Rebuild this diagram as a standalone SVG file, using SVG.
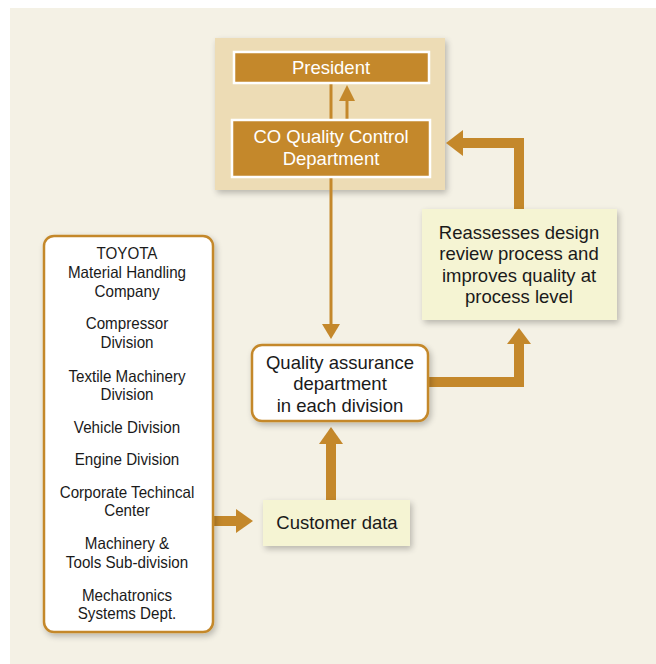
<svg xmlns="http://www.w3.org/2000/svg" width="656" height="664" viewBox="0 0 656 664">
<defs>
<filter id="sh" x="-20%" y="-20%" width="150%" height="150%">
<feGaussianBlur in="SourceAlpha" stdDeviation="3"/>
<feOffset dx="2" dy="3"/>
<feComponentTransfer><feFuncA type="linear" slope="0.25"/></feComponentTransfer>
<feMerge><feMergeNode/><feMergeNode in="SourceGraphic"/></feMerge>
</filter>
</defs>
<style>
.t{font-family:"Liberation Sans",Arial,sans-serif;font-size:18.5px;fill:#1a1a1a;text-anchor:middle}
.w{fill:#ffffff}
.n{font-family:"Liberation Sans",Arial,sans-serif;font-size:16.5px;fill:#1a1a1a;text-anchor:middle}
.dark{fill:#c4882b;stroke:#ffffff;stroke-width:2.5}
.note{fill:#f5f4d3}
.rnd{fill:#ffffff;stroke:#c4882b;stroke-width:2.5}
.ar{fill:#c4882b}
.ln{stroke:#c4882b;fill:none}
</style>
<rect x="10" y="8" width="646" height="656" fill="#f4f1e5"/>
<g id="hq">
<rect x="215" y="38" width="230" height="152" fill="#eddcb5" filter="url(#sh)"/>
</g>
<g id="connectors">
<line class="ln" x1="331" y1="84" x2="331" y2="326" stroke-width="3"/>
<polygon class="ar" points="322,324 340,324 331,339"/>
<line class="ln" x1="347" y1="119" x2="347" y2="98" stroke-width="3"/>
<polygon class="ar" points="339,101 355,101 347,85"/>
<polyline class="ln" points="519,209 519,143 462,143" stroke-width="10"/>
<polygon class="ar" points="463,130 463,156 446,143"/>
<polyline class="ln" points="428,382 519,382 519,342" stroke-width="10"/>
<polygon class="ar" points="507,344 531,344 519,328"/>
<line class="ln" x1="331" y1="500" x2="331" y2="442" stroke-width="10"/>
<polygon class="ar" points="319,444 343,444 331,427"/>
<line class="ln" x1="213" y1="521" x2="238" y2="521" stroke-width="10"/>
<polygon class="ar" points="236,509 236,533 253,521"/>
</g>
<g id="president">
<rect class="dark" x="234" y="52" width="195" height="31"/>
<text class="t w" x="331" y="74">President</text>
</g>
<g id="coqc">
<rect class="dark" x="232" y="120" width="198" height="57"/>
<text class="t w" x="331" y="143">CO Quality Control</text>
<text class="t w" x="331" y="165">Department</text>
</g>
<g id="reassess">
<rect class="note" x="422" y="209" width="195" height="111" filter="url(#sh)"/>
<text class="t" x="519" y="239">Reassesses design</text>
<text class="t" x="519" y="260">review process and</text>
<text class="t" x="519" y="282">improves quality at</text>
<text class="t" x="519" y="303">process level</text>
</g>
<g id="qa">
<rect class="rnd" x="252" y="345" width="176" height="76" rx="10" filter="url(#sh)"/>
<text class="t" x="340" y="369">Quality assurance</text>
<text class="t" x="340" y="390">department</text>
<text class="t" x="340" y="412">in each division</text>
</g>
<g id="customer">
<rect class="note" x="263" y="500" width="147" height="46" filter="url(#sh)"/>
<text class="t" x="337" y="529">Customer data</text>
</g>
<g id="divisions">
<rect class="rnd" x="44" y="236" width="169" height="396" rx="10" filter="url(#sh)"/>
<g transform="translate(127,0) scale(0.92,1)">
<text class="n" x="0" y="259">TOYOTA</text>
<text class="n" x="0" y="278">Material Handling</text>
<text class="n" x="0" y="297">Company</text>
<text class="n" x="0" y="329">Compressor</text>
<text class="n" x="0" y="348">Division</text>
<text class="n" x="0" y="382">Textile Machinery</text>
<text class="n" x="0" y="400">Division</text>
<text class="n" x="0" y="433">Vehicle Division</text>
<text class="n" x="0" y="465">Engine Division</text>
<text class="n" x="0" y="498">Corporate Techincal</text>
<text class="n" x="0" y="516">Center</text>
<text class="n" x="0" y="549">Machinery &amp;</text>
<text class="n" x="0" y="568">Tools Sub-division</text>
<text class="n" x="0" y="601">Mechatronics</text>
<text class="n" x="0" y="619">Systems Dept.</text>
</g>
</g>
</svg>
